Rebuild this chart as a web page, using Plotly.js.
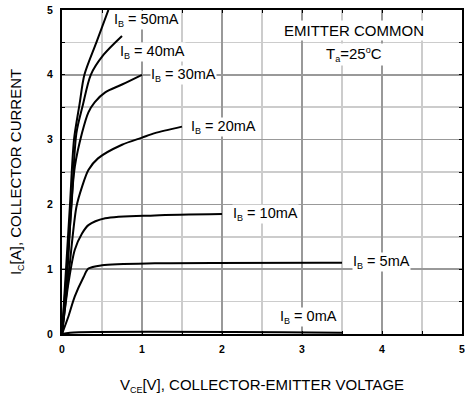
<!DOCTYPE html>
<html><head><meta charset="utf-8">
<script src="https://cdn.plot.ly/plotly-3.0.1.min.js"></script>
<style>html,body{margin:0;padding:0;background:#fff}#c{width:465px;height:401px}</style>
</head><body><div id="c"></div>
<script>
const ib50_v = [0, 0.05, 0.10, 0.15, 0.22, 0.28, 0.43, 0.58];
const ib50_i = [0, 1.0, 2.0, 3.0, 3.55, 4.0, 4.5, 5.0];
const ib40_v = [0, 0.06, 0.12, 0.18, 0.26, 0.36, 0.52, 0.75];
const ib40_i = [0, 1.0, 2.0, 3.1, 3.53, 4.0, 4.31, 4.6];
const ib30_v = [0, 0.07, 0.12, 0.16, 0.25, 0.33, 0.41, 0.54, 0.75, 1.0];
const ib30_i = [0, 1.0, 2.07, 2.58, 3.10, 3.42, 3.58, 3.73, 3.85, 4.0];
const ib20_v = [0, 0.09, 0.18, 0.25, 0.33, 0.45, 0.75, 1.0, 1.16, 1.5];
const ib20_i = [0, 1.0, 1.96, 2.27, 2.53, 2.71, 2.92, 3.03, 3.10, 3.2];
const ib10_v = [0, 0.08, 0.16, 0.25, 0.33, 0.54, 1.16, 2.0];
const ib10_i = [0, 0.78, 1.30, 1.55, 1.68, 1.785, 1.83, 1.85];
const ib5_v = [0, 0.08, 0.16, 0.27, 0.33, 0.5, 1.16, 3.5];
const ib5_i = [0, 0.27, 0.58, 0.88, 1.01, 1.06, 1.09, 1.1];
const ib0_v = [0, 0.1, 3.5];
const ib0_i = [0, 0.02, 0.02];

const SUB = t => '<sub><span style="font-size:9px">' + t + '</span></sub>';
const labels = ["50mA","40mA","30mA","20mA","10mA","5mA","0mA"].map(v => 'I' + SUB('B') + ' = ' + v);
const labelV = [0.64, 0.71, 1.1, 1.6, 2.13, 3.62, 2.71];
const labelI = [4.85, 4.35, 4.0, 3.2, 1.85, 1.11, 0.26];

const series = [[ib50_v,ib50_i],[ib40_v,ib40_i],[ib30_v,ib30_i],[ib20_v,ib20_i],[ib10_v,ib10_i],[ib5_v,ib5_i],[ib0_v,ib0_i]];
const traces = series.map(s => ({x:s[0], y:s[1], mode:'lines', line:{color:'#000', width:2, shape:'spline', smoothing:0.8}, hoverinfo:'skip', showlegend:false}));

const F = "Liberation Sans, Arial, Helvetica, sans-serif";
const ann = labels.map((t,k)=>({x:labelV[k], y:labelI[k], text:t, xanchor:'left', yanchor:'middle', showarrow:false, bgcolor:'#fff', borderpad:0, font:{family:F, size:14.5, color:'#000'}}));
ann.push({x:3.65, y:4.69, text:'EMITTER COMMON', showarrow:false, bgcolor:'#fff', font:{family:F, size:15, color:'#000'}});
ann.push({x:3.65, y:4.32, text:'T' + SUB('a') + '=25<sup><span style="font-size:9px">o</span></sup>C', showarrow:false, bgcolor:'#fff', font:{family:F, size:15, color:'#000'}});

const ax = {range:[0,5], dtick:1, tick0:0, showgrid:true, gridcolor:'#999', gridwidth:1.5, zeroline:false,
  showline:true, mirror:'ticks', linecolor:'#000', linewidth:2, ticks:'inside', ticklen:3, tickcolor:'#000',
  ticklabeloverflow:'allow',
  tickfont:{family:F, size:10.5, color:'#000', weight:'bold'},
  minor:{dtick:0.5, showgrid:true, gridcolor:'#ccc', gridwidth:1.5, ticks:'inside', ticklen:3, tickcolor:'#000'}};

const layout = {
  width:465, height:401, margin:{l:62, r:3, t:10, b:67},
  paper_bgcolor:'#fff', plot_bgcolor:'#fff',
  xaxis:Object.assign({}, ax, {ticklabelstandoff:4, title:{text:'V' + SUB('CE') + '[V], COLLECTOR-EMITTER VOLTAGE', font:{family:F, size:15, color:'#000'}, standoff:26}}),
  yaxis:Object.assign({}, ax, {ticklabelstandoff:5, title:{text:'I' + SUB('C') + '[A], COLLECTOR CURRENT', font:{family:F, size:15, color:'#000'}, standoff:22}}),
  annotations:ann
};
Plotly.newPlot('c', traces, layout, {displayModeBar:false, staticPlot:true});
</script></body></html>
